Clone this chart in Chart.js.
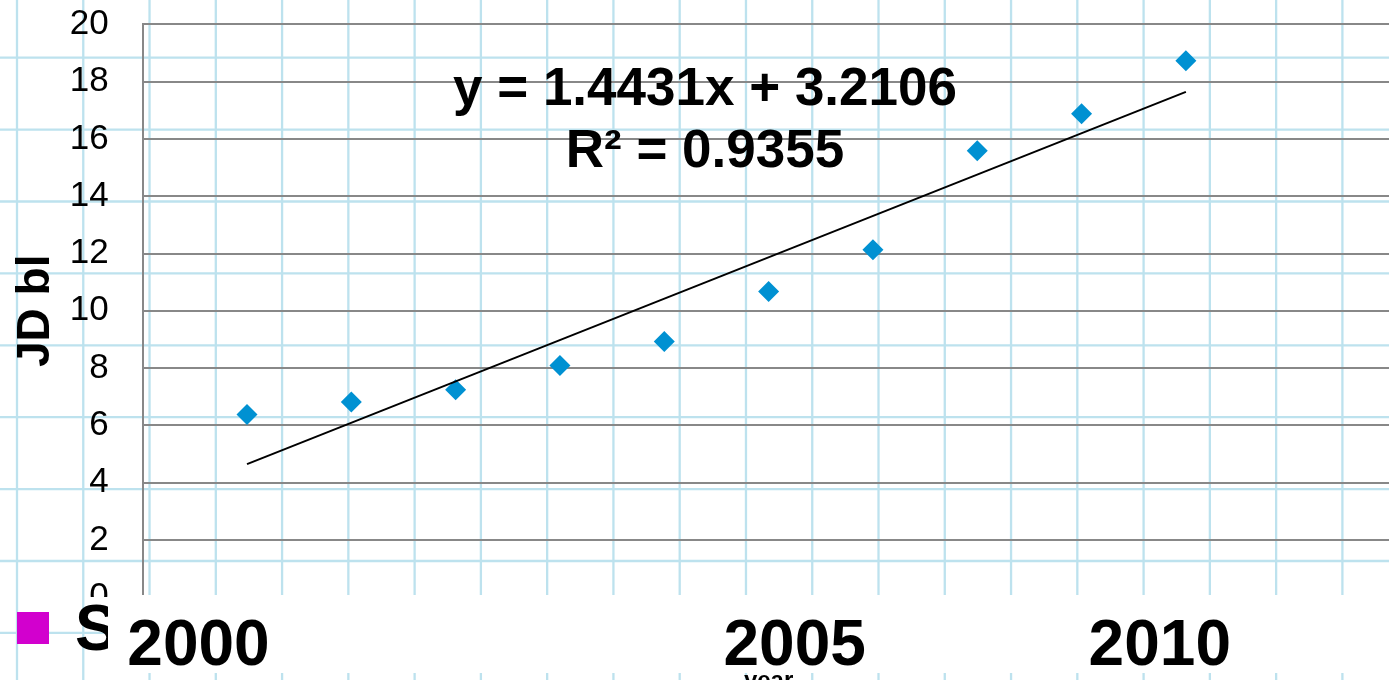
<!DOCTYPE html>
<html>
<head>
<meta charset="utf-8">
<script src="https://cdn.jsdelivr.net/npm/chart.js@4/dist/chart.umd.min.js"></script>
<style>
    body { margin: 0; overflow: hidden; background: #fff; }
    #wrap { width: 1389px; height: 680px; overflow: hidden; position: relative; }
    canvas { display: block; }
</style>
</head>
<body>
<div id="wrap"><canvas id="jdChart" width="1405" height="700"></canvas></div>
<script>
// values
const pointX = [1, 2, 3, 4, 5, 6, 7, 8, 9, 10];
const jdValues = [6.38, 6.82, 7.24, 8.09, 8.93, 10.67, 12.13, 15.59, 16.88, 18.73];
const trendX = [1, 10];
const trendY = [4.65, 17.64];
const xTickValues = [0.535, 6.25, 9.75];
const xTickLabels = ['2000', '2005', '2010'];
const equationLines = ['y = 1.4431x + 3.2106', 'R\u00b2 = 0.9355'];
const legendLabels = ['S'];

const FONT = "'Liberation Sans', Arial, sans-serif";

// graph paper behind the chart, white label strip and equation on top
const paperPlugin = {
    id: 'paper',
    beforeDraw(chart) {
        const ctx = chart.ctx;
        ctx.save();
        ctx.fillStyle = '#fff';
        ctx.fillRect(0, 0, chart.width, chart.height);
        ctx.strokeStyle = '#bde2ee';
        ctx.lineWidth = 2.3;
        for (let x = 17; x < chart.width; x += 66.27) {
            ctx.beginPath(); ctx.moveTo(x, 0); ctx.lineTo(x, chart.height); ctx.stroke();
        }
        for (let y = 57.7; y < chart.height; y += 71.9) {
            ctx.beginPath(); ctx.moveTo(0, y); ctx.lineTo(chart.width, y); ctx.stroke();
        }
        ctx.restore();
    },
    beforeDatasetsDraw(chart) {
        const ctx = chart.ctx;
        ctx.save();
        // hides lower part of the "0" label
        ctx.fillStyle = '#fff';
        ctx.fillRect(86, 597, 22, 15);
        // legend entry
        ctx.fillStyle = '#d200ce';
        ctx.fillRect(17, 612, 32, 32);
        ctx.beginPath(); ctx.rect(0, 590, 108, 80); ctx.clip();
        ctx.fillStyle = '#000';
        ctx.font = 'bold 64px ' + FONT;
        ctx.textBaseline = 'alphabetic';
        ctx.fillText(legendLabels[0], 75, 650);
        ctx.restore();
        ctx.save();
        ctx.fillStyle = '#fff';
        ctx.fillRect(108, 595, chart.width - 108, 78);
        ctx.restore();
    },
    afterDraw(chart) {
        const ctx = chart.ctx;
        ctx.save();
        ctx.fillStyle = '#000';
        ctx.font = 'bold 53px ' + FONT;
        ctx.textAlign = 'center';
        ctx.textBaseline = 'alphabetic';
        ctx.fillText(equationLines[0], 705, 105);
        ctx.fillText(equationLines[1], 705, 167);
        ctx.restore();
    }
};

const ctx = document.getElementById('jdChart').getContext('2d');
const jdChart = new Chart(ctx, {
    type: 'scatter',
    data: {
        datasets: [{
            label: 'trend',
            type: 'line',
            data: trendX.map((x, i) => ({ x: x, y: trendY[i] })),
            borderColor: '#000',
            borderWidth: 2,
            pointRadius: 0,
            fill: false
        }, {
            label: legendLabels[0],
            data: pointX.map((x, i) => ({ x: x, y: jdValues[i] })),
            pointStyle: 'rectRot',
            pointRadius: 10.5,
            backgroundColor: '#0091d2',
            borderWidth: 0
        }]
    },
    options: {
        responsive: false,
        animation: false,
        layout: { padding: { top: 24.3, right: 0, bottom: 0, left: 0 } },
        plugins: {
            legend: { display: false },
            tooltip: { enabled: false }
        },
        scales: {
            x: {
                type: 'linear',
                min: 0,
                max: 12,
                grid: { display: false, drawTicks: false },
                border: { display: false },
                afterBuildTicks: function (scale) {
                    scale.ticks = xTickValues.map(v => ({ value: v }));
                },
                afterFit: function (scale) {
                    scale.height = 102.7;
                    scale.paddingLeft = 0;
                    scale.paddingRight = 0;
                },
                ticks: {
                    z: 1,
                    autoSkip: false,
                    maxRotation: 0,
                    padding: 18.5,
                    color: '#000',
                    font: { family: FONT, size: 64, weight: 'bold', lineHeight: 1 },
                    callback: function (value, index) { return xTickLabels[index]; }
                },
                title: {
                    display: true,
                    text: 'year',
                    color: '#000',
                    font: { family: FONT, size: 24, weight: 'bold', lineHeight: 1 },
                    padding: { top: 0, bottom: 7 }
                }
            },
            y: {
                min: 0,
                max: 20,
                grid: { color: '#888', lineWidth: 2, drawTicks: false },
                border: { display: true, color: '#888', width: 2 },
                afterFit: function (scale) {
                    scale.width = 142.7;
                    scale.paddingTop = 0;
                    scale.paddingBottom = 0;
                },
                ticks: {
                    stepSize: 2,
                    padding: 34,
                    color: '#000',
                    font: { family: FONT, size: 35 }
                },
                title: {
                    display: true,
                    text: 'JD bl',
                    color: '#000',
                    font: { family: FONT, size: 46, weight: 'bold', lineHeight: 1 },
                    padding: { top: 13, bottom: 0 }
                }
            }
        }
    },
    plugins: [paperPlugin]
});
</script>
</body>
</html>
